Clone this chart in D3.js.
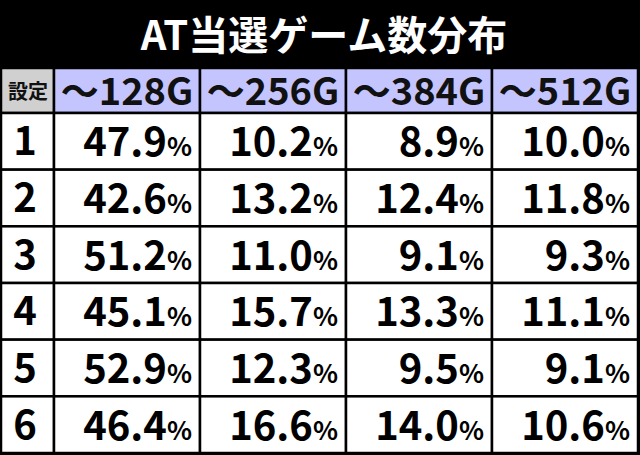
<!DOCTYPE html>
<html><head><meta charset="utf-8">
<script src="https://cdn.jsdelivr.net/npm/d3@7"></script>
<style>body{margin:0;background:#000}svg{display:block}text{font-family:"Noto Sans CJK JP","Noto Sans",sans-serif;font-weight:700}</style>
</head><body><div id="chart"></div>
<script>
const title = "AT当選ゲーム数分布";
const cornerLabel = "設定";
const columns = ["～128G", "～256G", "～384G", "～512G"];
const settings = ["1", "2", "3", "4", "5", "6"];
const g128 = [47.9, 42.6, 51.2, 45.1, 52.9, 46.4];
const g256 = [10.2, 13.2, 11.0, 15.7, 12.3, 16.6];
const g384 = [8.9, 12.4, 9.1, 13.3, 9.5, 14.0];
const g512 = [10.0, 11.8, 9.3, 11.1, 9.1, 10.6];
const series = [g128, g256, g384, g512];

const width = 640, height = 455;
const titleH = 68, headH = 45, firstW = 54;

const svg = d3.select("#chart").append("svg").attr("width", width).attr("height", height);
svg.append("rect").attr("width", width).attr("height", height).attr("fill", "#000");

svg.append("text").attr("x", width / 2 + 4).attr("y", 50).attr("text-anchor", "middle")
  .attr("fill", "#fff").attr("font-size", 40).text(title);

const x = d3.scaleBand().domain(columns).range([firstW, width - 2]);
const y = d3.scaleBand().domain(settings).range([titleH + headH, height - 2]);

const border = "#000", lw = 2.5;
// corner
svg.append("rect").attr("x", 1).attr("y", titleH).attr("width", firstW - 1).attr("height", headH)
  .attr("fill", "#d0d0d0").attr("stroke", border).attr("stroke-width", lw);
svg.append("text").attr("x", firstW / 2 + 1).attr("y", titleH + headH / 2 + 8).attr("text-anchor", "middle")
  .attr("font-size", 20).attr("fill", "#111").text(cornerLabel);

// headers
columns.forEach(c => {
  svg.append("rect").attr("x", x(c)).attr("y", titleH).attr("width", x.bandwidth()).attr("height", headH)
    .attr("fill", "#c4c4ff").attr("stroke", border).attr("stroke-width", lw);
  svg.append("text").attr("x", x(c) + x.bandwidth() / 2).attr("y", titleH + headH / 2 + 14)
    .attr("text-anchor", "middle").attr("font-size", 38).attr("fill", "#111").text(c);
});

// body
settings.forEach((s, i) => {
  svg.append("rect").attr("x", 1).attr("y", y(s)).attr("width", firstW - 1).attr("height", y.bandwidth())
    .attr("fill", "#fff").attr("stroke", border).attr("stroke-width", lw);
  svg.append("text").attr("x", firstW / 2 - 2).attr("y", y(s) + y.bandwidth() / 2 + 14)
    .attr("text-anchor", "middle").attr("font-size", 40).attr("fill", "#000").text(s);
  columns.forEach((c, j) => {
    svg.append("rect").attr("x", x(c)).attr("y", y(s)).attr("width", x.bandwidth()).attr("height", y.bandwidth())
      .attr("fill", "#fff").attr("stroke", border).attr("stroke-width", lw);
    const t = svg.append("text").attr("x", x(c) + x.bandwidth() - 8).attr("y", y(s) + y.bandwidth() / 2 + 15)
      .attr("text-anchor", "end").attr("fill", "#000");
    t.append("tspan").attr("font-size", 40).text(series[j][i].toFixed(1));
    t.append("tspan").attr("font-size", 26).text("%");
  });
});
</script></body></html>
